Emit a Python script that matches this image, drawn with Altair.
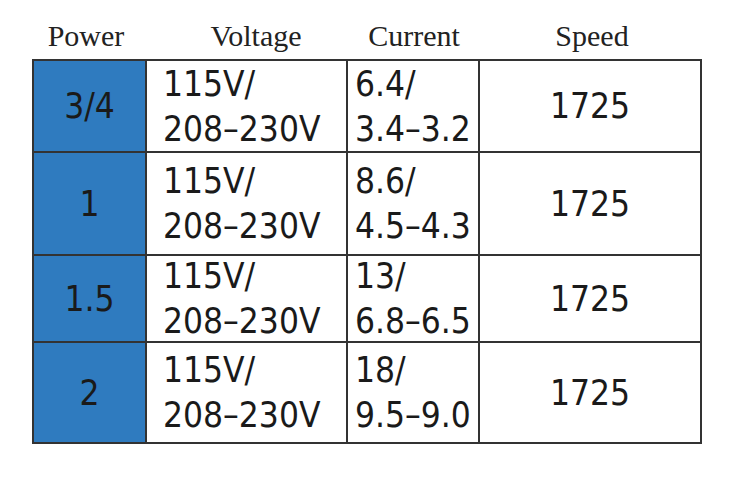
import altair as alt
import pandas as pd

# ---- data ----
headers = ["Power", "Voltage", "Current", "Speed"]
power = ["3/4", "1", "1.5", "2"]
voltage = ["115V/\n208–230V", "115V/\n208–230V", "115V/\n208–230V", "115V/\n208–230V"]
current = ["6.4/\n3.4–3.2", "8.6/\n4.5–4.3", "13/\n6.8–6.5", "18/\n9.5–9.0"]
speed = ["1725", "1725", "1725", "1725"]

# ---- layout (page pixels) ----
col_edges = [33, 146, 347, 479, 701]
row_edges = [60, 152, 255, 342, 443]
header_x = [86, 256, 414, 592]
header_y = 46
W, H = 735, 462
LH = 45

xs = alt.Scale(domain=[8, 8 + W], nice=False, zero=False)
ys = alt.Scale(domain=[8, 8 + H], nice=False, zero=False, reverse=True)

cells = []
cols = [power, voltage, current, speed]
for ci, col in enumerate(cols):
    for ri, val in enumerate(col):
        x0, x1 = col_edges[ci], col_edges[ci + 1]
        y0, y1 = row_edges[ri], row_edges[ri + 1]
        nlines = val.count("\n") + 1
        if ci in (1, 2):
            tx, align = x0 + (17 if ci == 1 else 8), "left"
        else:
            tx, align = (x0 + x1) / 2, "center"
        cells.append(dict(x0=x0, x1=x1, y0=y0, y1=y1, txt=val, tx=tx,
                          ty=(y0 + y1) / 2 + 1 - (nlines - 1) * LH / 2,
                          align=align,
                          fill="#2f7bbf" if ci == 0 else "#ffffff"))
df = pd.DataFrame(cells)
hdf = pd.DataFrame(dict(h=headers, x=header_x, y=[header_y] * 4))

rects = alt.Chart(df).mark_rect(stroke="#333333", strokeWidth=2).encode(
    x=alt.X("x0:Q", scale=xs, axis=None),
    x2="x1:Q",
    y=alt.Y("y0:Q", scale=ys, axis=None),
    y2="y1:Q",
    fill=alt.Fill("fill:N", scale=None),
)

base_txt = dict(font="Liberation Sans Narrow, DejaVu Sans Condensed, sans-serif",
                fontSize=35, color="#1a1a1a",
                baseline="middle", lineBreak="\n", lineHeight=LH)

txt_left = alt.Chart(df).transform_filter("datum.align == 'left'").mark_text(
    align="left", **base_txt).encode(
    x=alt.X("tx:Q", scale=xs, axis=None),
    y=alt.Y("ty:Q", scale=ys, axis=None),
    text="txt:N",
)
txt_center = alt.Chart(df).transform_filter("datum.align == 'center'").mark_text(
    align="center", **base_txt).encode(
    x=alt.X("tx:Q", scale=xs, axis=None),
    y=alt.Y("ty:Q", scale=ys, axis=None),
    text="txt:N",
)

head = alt.Chart(hdf).mark_text(font="Liberation Serif", fontSize=30,
                                color="#222222", align="center",
                                baseline="alphabetic").encode(
    x=alt.X("x:Q", scale=xs, axis=None),
    y=alt.Y("y:Q", scale=ys, axis=None),
    text="h:N",
)

chart = alt.layer(rects, txt_left, txt_center, head).properties(
    width=W, height=H, autosize=alt.AutoSizeParams(type="none"), padding=0,
    background="#ffffff",
).configure_view(strokeWidth=0)

chart.save("out.html", embed_options={"renderer": "svg", "actions": False})
